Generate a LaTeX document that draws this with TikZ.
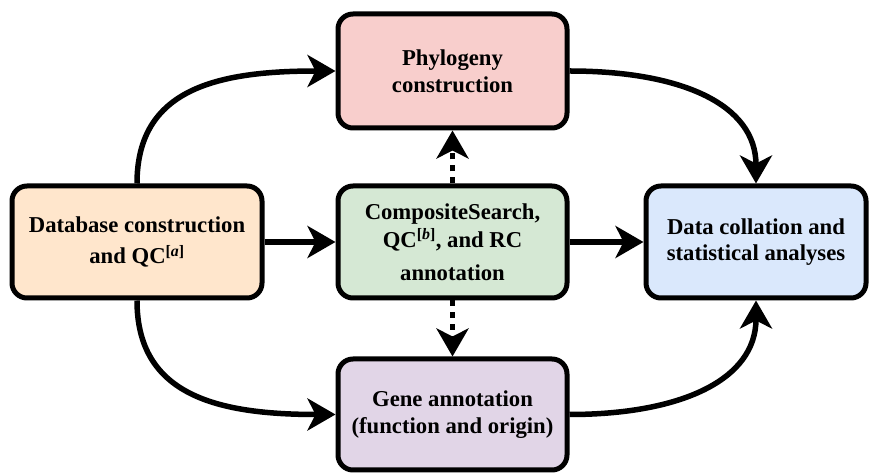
\documentclass[tikz,border=0pt]{standalone}
\usepackage{fontspec}
\setmainfont{Liberation Serif}
\newfontfamily\boxserif{Liberation Serif Bold}[
  ItalicFont={Liberation Serif Bold Italic}]
\usetikzlibrary{arrows.meta}
\definecolor{dbfill}{HTML}{FFE6CC}
\definecolor{phyfill}{HTML}{F8CECC}
\definecolor{csfill}{HTML}{D5E8D4}
\definecolor{datafill}{HTML}{DAE8FC}
\definecolor{genefill}{HTML}{E1D5E7}
\tikzset{
  box/.style={draw=black, line width=5pt, rounded corners=15pt, align=center,
    inner sep=0pt, font=\boxserif\fontsize{22.7}{26.7}\selectfont},
  flow/.style={line width=5.5pt, -{Stealth[length=28pt,width=32pt,inset=8pt]}},
  dotflow/.style={flow, dash pattern=on 6pt off 6pt},
}
\begin{document}
\begin{tikzpicture}[x=1pt,y=1pt]
\useasboundingbox (0,0) rectangle (869,473);
% boxes
\node[box, fill=dbfill, minimum width=250pt, minimum height=112pt] (db) at (137,231)
  {Database construction\\[4.5pt]and QC\textsuperscript{[\textit{a}]}};
\node[box, fill=csfill, minimum width=229pt, minimum height=112pt] (cs) at (452.5,231)
  {CompositeSearch,\\[1.5pt]QC\textsuperscript{[\textit{b}]}, and RC\\[6pt]annotation};
\node[box, fill=datafill, minimum width=220pt, minimum height=112pt] (data) at (756,231)
  {Data collation and\\statistical analyses};
\node[box, fill=phyfill, minimum width=229pt, minimum height=114pt] (phy) at (452.5,402)
  {Phylogeny\\construction};
\node[box, fill=genefill, minimum width=229pt, minimum height=111pt] (gene) at (452.5,58.5)
  {Gene annotation\\(function and origin)};
% connectors
\draw[flow] (db.east) -- (cs.west);
\draw[flow] (cs.east) -- (data.west);
\draw[flow] (db.north) .. controls +(0,95) and +(-118,0) .. (phy.west);
\draw[flow] (db.south) .. controls +(0,-95) and +(-118,0) .. (gene.west);
\draw[flow] (phy.east) .. controls +(110,0) and +(0,80) .. (data.north);
\draw[flow] (gene.east) .. controls +(110,0) and +(0,-80) .. (data.south);
\draw[dotflow] (cs.north) -- (phy.south);
\draw[dotflow] (cs.south) -- (gene.north);
\end{tikzpicture}
\end{document}
